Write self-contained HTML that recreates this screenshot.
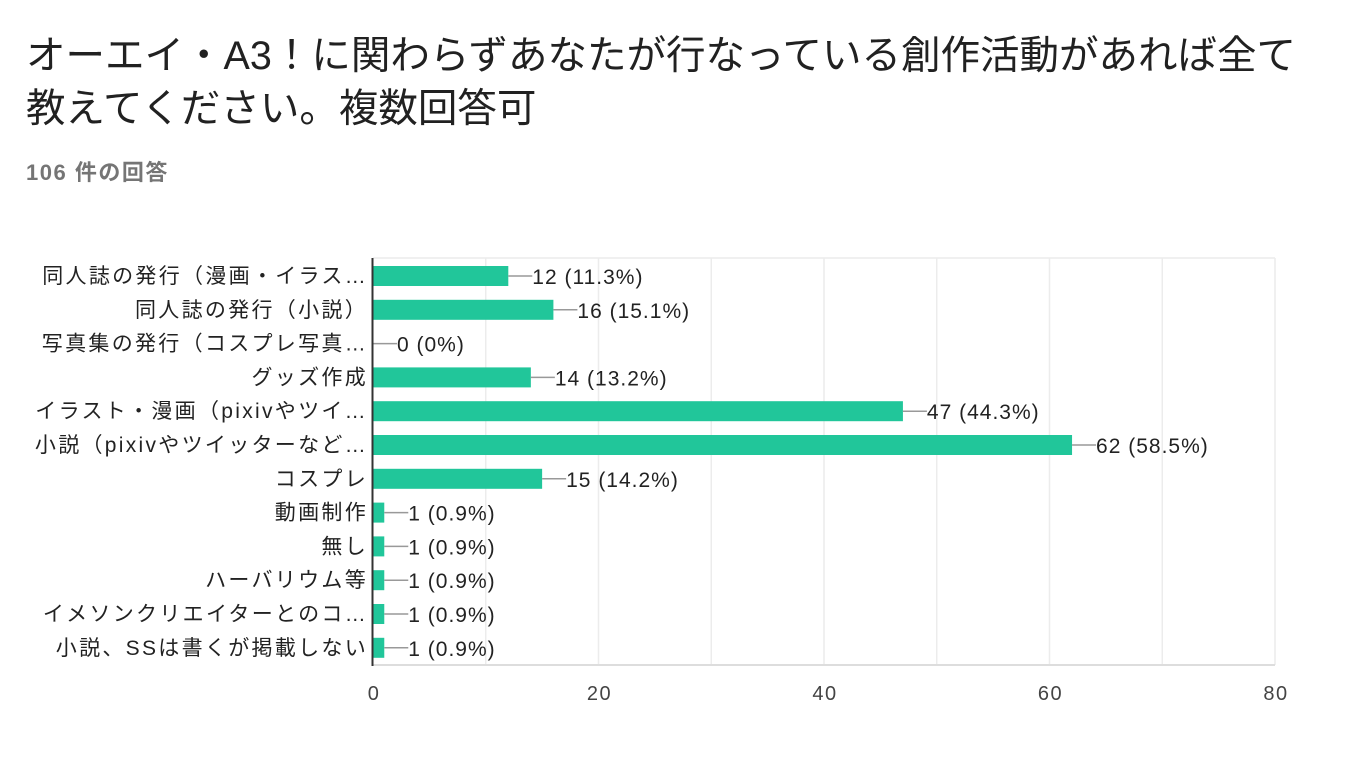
<!DOCTYPE html>
<html><head><meta charset="utf-8"><style>
body{margin:0;width:1348px;height:772px;background:#fff;overflow:hidden;font-family:"Liberation Sans","Noto Sans CJK JP",sans-serif;}
</style></head><body>
<svg width="1348" height="772" xmlns="http://www.w3.org/2000/svg" style="font-family:'Liberation Sans','Noto Sans CJK JP',sans-serif">
<text x="26" y="69" font-size="39.5" fill="#212121">オーエイ・A3！に関わらずあなたが行なっている創作活動があれば全て</text>
<text x="26" y="122" font-size="39.5" fill="#212121">教えてください。複数回答可</text>
<text x="26" y="180" font-size="22" fill="#757575" letter-spacing="1.5" font-weight="bold">106 件の回答</text>
<g stroke="#ececec" stroke-width="1.5">
<line x1="373" y1="258" x2="1275" y2="258"/>
<line x1="485.75" y1="258" x2="485.75" y2="665"/><line x1="598.5" y1="258" x2="598.5" y2="665"/>
<line x1="711.25" y1="258" x2="711.25" y2="665"/><line x1="824" y1="258" x2="824" y2="665"/>
<line x1="936.75" y1="258" x2="936.75" y2="665"/><line x1="1049.5" y1="258" x2="1049.5" y2="665"/>
<line x1="1162.25" y1="258" x2="1162.25" y2="665"/><line x1="1275" y1="258" x2="1275" y2="665"/>
</g>
<line x1="372" y1="665" x2="1275" y2="665" stroke="#ddd" stroke-width="2"/>
<g id="bars" fill="#222"></g>
<line x1="372.5" y1="258" x2="372.5" y2="666" stroke="#333" stroke-width="2"/>
<g font-size="20" fill="#444" text-anchor="middle" letter-spacing="1.5">
<text x="374" y="700">0</text><text x="599.5" y="700">20</text><text x="825" y="700">40</text><text x="1050.5" y="700">60</text><text x="1276" y="700">80</text>
</g>
</svg>
<script>
var d=[["同人誌の発行（漫画・イラス…",12,"11.3%"],["同人誌の発行（小説）",16,"15.1%"],["写真集の発行（コスプレ写真…",0,"0%"],["グッズ作成",14,"13.2%"],["イラスト・漫画（pixivやツイ…",47,"44.3%"],["小説（pixivやツイッターなど…",62,"58.5%"],["コスプレ",15,"14.2%"],["動画制作",1,"0.9%"],["無し",1,"0.9%"],["ハーバリウム等",1,"0.9%"],["イメソンクリエイターとのコ…",1,"0.9%"],["小説、SSは書くが掲載しない",1,"0.9%"]];
var g=document.getElementById("bars"),s="";
d.forEach(function(r,i){var t=266+33.8*i,c=t+10,w=r[1]*11.275,e=373+w;
s+='<text x="368" y="'+(c+7)+'" text-anchor="end" font-size="21" letter-spacing="2.3">'+r[0]+'</text>';
if(w>0)s+='<rect x="373" y="'+t+'" width="'+w+'" height="20" fill="#21c69a"/>';
s+='<line x1="'+e+'" y1="'+c+'" x2="'+(e+24)+'" y2="'+c+'" stroke="#999" stroke-width="1.5"/>';
s+='<text x="'+(e+24)+'" y="'+(c+8)+'" font-size="21" letter-spacing="1">'+r[1]+' ('+r[2]+')</text>';});
g.innerHTML=s;
</script>
</body></html>
